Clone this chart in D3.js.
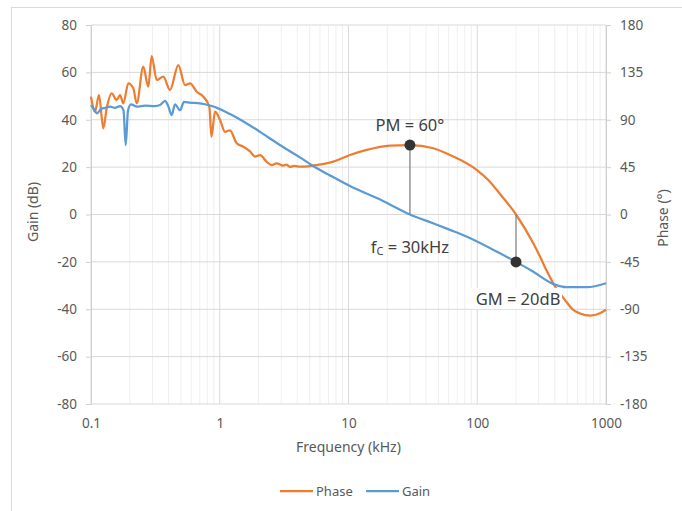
<!DOCTYPE html>
<html>
<head>
<meta charset="utf-8">
<script src="https://cdn.jsdelivr.net/npm/d3@7"></script>
<style>
  body { margin: 0; background: #fff; }
  text { font-family: "Noto Sans", "Open Sans", sans-serif; }
</style>
</head>
<body>
<div id="chart-area"></div>
<script>
// gain curve (kHz, dB)
var gainFreq = [0.1, 0.1055, 0.1113, 0.1196, 0.1284, 0.1405, 0.1536, 0.168, 0.1788, 0.186, 0.1939,
    0.2045, 0.2277, 0.2627, 0.3141, 0.3435, 0.3757, 0.3964, 0.4235, 0.4492, 0.4913, 0.5278, 0.5874,
    0.7024, 0.8401, 1.004, 1.201, 1.437, 1.718, 2.054, 2.457, 3.099, 4.201, 5.302, 7.184, 10.27,
    18.54, 30, 45.33, 61.42, 83.24, 150.2, 200, 271, 387.6, 497.9, 711.9, 1000];
var gainDb = [46.2, 44.5, 42.7, 44.5, 45, 45.5, 45, 45.8, 44, 29.3, 44,
    46.5, 45.5, 46, 45.8, 46.2, 48, 46, 42, 46.5, 44, 47.5, 47.2,
    46.9, 46, 44.5, 42.4, 40.1, 37.6, 34.9, 32.1, 28.5, 24.1, 20.5, 16.5, 12,
    5.7, 0, -3.7, -6.5, -9.4, -16.4, -20, -24.1, -29.3, -30.7, -30.7, -29];

// phase curve (kHz, degrees)
var phaseFreq = [0.1, 0.1074, 0.1154, 0.1246, 0.1324, 0.1448, 0.1584, 0.168, 0.1782, 0.1949, 0.2131,
    0.2265, 0.2548, 0.2786, 0.2961, 0.3238, 0.3644, 0.4108, 0.4765, 0.5372, 0.5874, 0.6622, 0.7451,
    0.8294, 0.8628, 0.9186, 1.004, 1.099, 1.201, 1.354, 1.524, 1.718, 1.878, 2.054, 2.316, 2.532,
    2.769, 3.116, 3.3, 3.513, 3.8, 4.201, 5.023, 5.662, 7.619, 10.27, 13.85, 21.01, 30, 45.57, 61.42, 100,
    121.8, 150.2, 200, 272.4, 307.2, 346.3, 401.8, 480.4, 557.2, 628.2, 751, 898, 1000];
var phaseDeg = [112, 97.6, 113.5, 81.9, 100.9, 115, 108.8, 113.5, 105.6, 124.6, 119.9,
    105.6, 140.4, 121.4, 150.5, 127.8, 130.9, 118.3, 142, 123, 124.6, 116.6, 111.9,
    102.4, 73.9, 97.6, 90, 78.6, 80, 67.6, 64.4, 60, 55, 56.5, 50, 47,
    48.6, 46.5, 47.3, 45.2, 46.2, 45.4, 46, 47, 50.2, 56.5, 61.3, 65.4, 66, 62.9, 56.5, 42,
    32.8, 19.5, 0, -27.4, -40, -53.5, -68.2, -81.2, -90.7, -94, -96, -93.8, -90.5];

var gainTicks = [-80, -60, -40, -20, 0, 20, 40, 60, 80];
var phaseTicks = [-180, -135, -90, -45, 0, 45, 90, 135, 180];
var freqTicks = [0.1, 1, 10, 100, 1000];

// marker points
var pmFreq = 30, pmPhase = 66;
var gmFreq = 200, gmGain = -20;

var margin = {top: 25, right: 76, bottom: 107, left: 91};
var width = 515;
var height = 379;

var svg = d3.select("#chart-area")
    .append("svg")
        .attr("width", 682)
        .attr("height", 511);

// outer frame
svg.append("rect")
    .attr("x", 11.5).attr("y", 7.5)
    .attr("width", 700).attr("height", 600)
    .attr("fill", "none")
    .attr("stroke", "#d9d9d9");

var g = svg.append("g")
    .attr("transform", "translate(" + margin.left + ", " + margin.top + ")");

var x = d3.scaleLog().domain([0.1, 1000]).range([0, width]);
var yGain = d3.scaleLinear().domain([-80, 80]).range([height, 0]);
var yPhase = d3.scaleLinear().domain([-180, 180]).range([height, 0]);

// vertical grid (minor + major)
var minor = [];
[0.1, 1, 10, 100].forEach((d) => {
    for (var k = 2; k <= 9; k++) minor.push(d * k);
});
g.selectAll(".vminor").data(minor).enter().append("line")
    .attr("x1", (d) => x(d)).attr("x2", (d) => x(d))
    .attr("y1", 0).attr("y2", height)
    .attr("stroke", "#efefef");
g.selectAll(".vmajor").data(freqTicks).enter().append("line")
    .attr("x1", (d) => x(d)).attr("x2", (d) => x(d))
    .attr("y1", 0).attr("y2", height)
    .attr("stroke", "#d9d9d9");

// horizontal grid
g.selectAll(".hgrid").data(gainTicks).enter().append("line")
    .attr("x1", 0).attr("x2", width)
    .attr("y1", (d) => yGain(d)).attr("y2", (d) => yGain(d))
    .attr("stroke", "#d9d9d9");

// axes
var plain = (d) => "" + d;
var leftAxis = d3.axisLeft(yGain).tickValues(gainTicks).tickFormat(plain)
    .tickSize(5).tickPadding(9).tickSizeOuter(0);
var gl = g.append("g").attr("class", "left axis").call(leftAxis);

var rightAxis = d3.axisRight(yPhase).tickValues(phaseTicks).tickFormat(plain)
    .tickSize(5).tickPadding(9).tickSizeOuter(0);
var gr = g.append("g").attr("class", "right axis")
    .attr("transform", "translate(" + width + ", 0)")
    .call(rightAxis);

var bottomAxis = d3.axisBottom(x).tickValues(freqTicks).tickFormat(plain).tickSize(0).tickPadding(14);
var gb = g.append("g").attr("class", "x axis")
    .attr("transform", "translate(0, " + height + ")")
    .call(bottomAxis);
gb.select(".domain").remove();

[gl, gr].forEach((a) => {
    a.selectAll("path, line").attr("stroke", "#d0d0d0");
});
[gl, gr, gb].forEach((a) => {
    a.selectAll("text")
        .attr("fill", "#595959")
        .attr("font-size", "13.5px")
        .attr("font-family", "'Noto Sans', sans-serif");
});

// axis titles
svg.append("text")
    .attr("transform", "translate(38, 212) rotate(-90)")
    .attr("text-anchor", "middle")
    .attr("font-size", "14px")
    .attr("fill", "#595959")
    .text("Gain (dB)");

svg.append("text")
    .attr("transform", "translate(668, 218) rotate(-90)")
    .attr("text-anchor", "middle")
    .attr("font-size", "14px")
    .attr("fill", "#595959")
    .text("Phase (°)");

svg.append("text")
    .attr("x", margin.left + width / 2)
    .attr("y", 452)
    .attr("text-anchor", "middle")
    .attr("font-size", "14px")
    .attr("fill", "#595959")
    .text("Frequency (kHz)");

// curves
var phaseLine = d3.line()
    .x((d, i) => x(phaseFreq[i]))
    .y((d) => yPhase(d))
    .curve(d3.curveMonotoneX);
var gainLine = d3.line()
    .x((d, i) => x(gainFreq[i]))
    .y((d) => yGain(d))
    .curve(d3.curveMonotoneX);

g.append("path")
    .datum(phaseDeg)
    .attr("d", phaseLine)
    .attr("fill", "none")
    .attr("stroke", "#ed7d31")
    .attr("stroke-width", 2.25)
    .attr("stroke-linejoin", "round");

g.append("path")
    .datum(gainDb)
    .attr("d", gainLine)
    .attr("fill", "none")
    .attr("stroke", "#5b9bd5")
    .attr("stroke-width", 2.25)
    .attr("stroke-linejoin", "round");

// margin markers
g.append("line")
    .attr("x1", x(pmFreq)).attr("x2", x(pmFreq))
    .attr("y1", yPhase(pmPhase)).attr("y2", yGain(0))
    .attr("stroke", "#7f7f7f").attr("stroke-width", 1.2);
g.append("line")
    .attr("x1", x(gmFreq)).attr("x2", x(gmFreq))
    .attr("y1", yPhase(0)).attr("y2", yGain(gmGain))
    .attr("stroke", "#7f7f7f").attr("stroke-width", 1.2);

g.append("circle")
    .attr("cx", x(pmFreq)).attr("cy", yPhase(pmPhase)).attr("r", 5.5)
    .attr("fill", "#333333");
g.append("circle")
    .attr("cx", x(gmFreq)).attr("cy", yGain(gmGain)).attr("r", 5.5)
    .attr("fill", "#333333");

// labels
var labelFont = "'Liberation Sans', Arial, sans-serif";
g.append("text")
    .attr("x", x(pmFreq)).attr("y", yPhase(pmPhase) - 14)
    .attr("text-anchor", "middle")
    .attr("font-family", labelFont)
    .attr("font-size", "16.5px")
    .attr("fill", "#404040")
    .text("PM = 60°");

var fc = g.append("text")
    .attr("x", x(pmFreq)).attr("y", yGain(0) + 38)
    .attr("text-anchor", "middle")
    .attr("font-family", labelFont)
    .attr("font-size", "16.5px")
    .attr("fill", "#404040");
fc.append("tspan").text("f");
fc.append("tspan").attr("font-size", "11px").attr("dy", 2).text("C");
fc.append("tspan").attr("dy", -2).text(" = 30kHz");

g.append("rect")
    .attr("x", x(gmFreq) - 46).attr("y", yGain(gmGain) + 26)
    .attr("width", 92).attr("height", 21)
    .attr("fill", "#ffffff");
g.append("text")
    .attr("x", x(gmFreq) + 2).attr("y", yGain(gmGain) + 43)
    .attr("text-anchor", "middle")
    .attr("font-family", labelFont)
    .attr("font-size", "16.5px")
    .attr("fill", "#404040")
    .text("GM = 20dB");

// legend
var legend = svg.append("g").attr("transform", "translate(280, 491)");
[["Phase", "#ed7d31", 0], ["Gain", "#5b9bd5", 86]].forEach((d) => {
    legend.append("line")
        .attr("x1", d[2]).attr("x2", d[2] + 33)
        .attr("y1", 0).attr("y2", 0)
        .attr("stroke", d[1]).attr("stroke-width", 2.25);
    legend.append("text")
        .attr("x", d[2] + 36).attr("y", 4.5)
        .attr("font-size", "13px")
        .attr("fill", "#595959")
        .text(d[0]);
});
</script>
</body>
</html>
